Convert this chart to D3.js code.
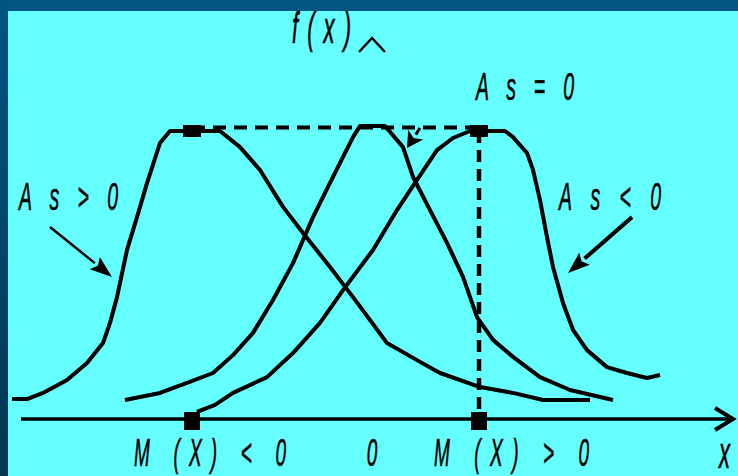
<!DOCTYPE html>
<html>
<head>
    <title>Skewness</title>
    <script src="https://d3js.org/d3.v7.min.js"></script>
    <style>
        body { margin: 0; background: #055582; }
        text { font-family: "Liberation Sans", Arial, sans-serif; font-style: italic; fill: #000; stroke: #000; stroke-width: 0.6px; }
    </style>
</head>
<body>
    <div id="chart"></div>

    <script>
        // curves (x in units of the axis, y relative to the peak)
        var posSkewX = [-3.60, -3.45, -3.29, -3.05, -2.85, -2.69, -2.62, -2.55, -2.45, -2.35, -2.25, -2.12, -2.02, -1.52, -1.32, -1.12, -0.89, -0.69, -0.42, -0.19, -0.02, 0.15, 0.48, 0.68, 1.08, 1.41, 1.71, 2.18];
        var posSkewY = [0.068, 0.068, 0.089, 0.133, 0.191, 0.259, 0.328, 0.416, 0.577, 0.689, 0.805, 0.942, 0.983, 0.983, 0.928, 0.850, 0.724, 0.635, 0.519, 0.416, 0.338, 0.259, 0.195, 0.157, 0.109, 0.089, 0.065, 0.065];

        var zeroSkewX = [-2.47, -2.12, -1.85, -1.59, -1.39, -1.19, -0.99, -0.79, -0.59, -0.39, -0.19, -0.12, 0.13, 0.31, 0.41, 0.58, 0.75, 0.91, 1.05, 1.21, 1.41, 1.68, 1.98, 2.41];
        var zeroSkewY = [0.065, 0.089, 0.123, 0.157, 0.218, 0.294, 0.406, 0.532, 0.689, 0.826, 0.962, 1.0, 1.0, 0.928, 0.826, 0.713, 0.601, 0.485, 0.348, 0.270, 0.212, 0.143, 0.099, 0.065];

        var negSkewX = [-1.75, -1.57, -1.39, -1.05, -0.79, -0.52, -0.29, 0.01, 0.25, 0.45, 0.65, 0.81, 0.98, 1.33, 1.41, 1.55, 1.61, 1.68, 1.75, 1.81, 1.91, 2.01, 2.15, 2.35, 2.55, 2.75, 2.88];
        var negSkewY = [0.024, 0.048, 0.089, 0.143, 0.225, 0.328, 0.440, 0.577, 0.713, 0.816, 0.918, 0.959, 0.983, 0.983, 0.962, 0.908, 0.850, 0.747, 0.621, 0.519, 0.396, 0.304, 0.235, 0.177, 0.157, 0.140, 0.150];

        // modes of the two skewed curves
        var modes = [-1.8, 1.07];
        var modeLevel = 0.983;

        var axisLabels = ["M (X) < 0", "0", "M (X) > 0", "x"];
        var skewLabels = ["A s > 0", "A s = 0", "A s < 0"];

        var width = 738, height = 476;

        var svg = d3.select("#chart")
                    .append("svg")
                    .attr("width", width)
                    .attr("height", height)
                    .style("display", "block");

        // frame
        var grad = svg.append("defs").append("linearGradient")
            .attr("id", "side").attr("x1", 0).attr("y1", 0).attr("x2", 0).attr("y2", 1);
        grad.append("stop").attr("offset", "0%").attr("stop-color", "#005583");
        grad.append("stop").attr("offset", "100%").attr("stop-color", "#043650");

        svg.append("rect").attr("width", width).attr("height", 11).attr("fill", "#055582");
        svg.append("rect").attr("y", 0).attr("width", 8).attr("height", height).attr("fill", "url(#side)");
        svg.append("rect").attr("x", 8).attr("y", 11).attr("width", width - 8).attr("height", height - 11).attr("fill", "#66ffff");

        var x = d3.scaleLinear().domain([-3.5, 3.5]).range([22, 722]);
        var y = d3.scaleLinear().domain([0, 1]).range([419, 126]);

        function pts(xs, ys) {
            return xs.map(function(d, i) { return [d, ys[i]]; });
        }

        var line = d3.line()
            .x(function(d) { return x(d[0]); })
            .y(function(d) { return y(d[1]); });

        // dashed guides
        svg.append("line")
           .attr("x1", x(modes[0])).attr("x2", x(modes[1]))
           .attr("y1", y(1) + 1.5).attr("y2", y(1) + 1.5)
           .attr("stroke", "#000").attr("stroke-width", 4)
           .attr("stroke-dasharray", "13,8");

        svg.append("line")
           .attr("x1", x(modes[1])).attr("x2", x(modes[1]))
           .attr("y1", y(modeLevel)).attr("y2", y(0))
           .attr("stroke", "#000").attr("stroke-width", 4.5)
           .attr("stroke-dasharray", "12,7");

        // x axis with arrow
        svg.append("line")
           .attr("x1", x(-3.51)).attr("x2", x(3.6))
           .attr("y1", y(0)).attr("y2", y(0))
           .attr("stroke", "#000").attr("stroke-width", 3.5);

        svg.append("path")
           .attr("d", "M" + (x(3.61) - 18) + "," + (y(0) - 11) + "L" + x(3.61) + "," + y(0) + "L" + (x(3.61) - 18) + "," + (y(0) + 11))
           .attr("fill", "none").attr("stroke", "#000").attr("stroke-width", 4);

        // y axis arrow head only
        svg.append("path")
           .attr("d", "M" + (x(0) - 13) + ",52L" + x(0) + ",38L" + (x(0) + 13) + ",52")
           .attr("fill", "none").attr("stroke", "#000").attr("stroke-width", 2.5);

        // curves
        [pts(posSkewX, posSkewY), pts(zeroSkewX, zeroSkewY), pts(negSkewX, negSkewY)].forEach(function(c) {
            svg.append("path")
               .attr("d", line(c))
               .attr("fill", "none")
               .attr("stroke", "#000")
               .attr("stroke-width", 4)
               .attr("stroke-linejoin", "round");
        });

        // mode markers on the peaks and on the axis
        svg.selectAll(".peak")
           .data(modes)
           .enter()
           .append("rect")
           .attr("x", function(d) { return x(d) - 9; })
           .attr("y", y(modeLevel) - 6)
           .attr("width", 18).attr("height", 12)
           .attr("fill", "#000");

        svg.selectAll(".foot")
           .data(modes)
           .enter()
           .append("rect")
           .attr("x", function(d) { return x(d) - 8; })
           .attr("y", y(0) - 7)
           .attr("width", 16).attr("height", 18)
           .attr("fill", "#000");

        // annotation arrows
        function arrow(x0, y0, x1, y1, w, len, half) {
            var px0 = x(x0), py0 = y(y0), px1 = x(x1), py1 = y(y1);
            var dx = px1 - px0, dy = py1 - py0, l = Math.sqrt(dx * dx + dy * dy);
            var ux = dx / l, uy = dy / l;
            var bx = px1 - ux * len, by = py1 - uy * len;
            svg.append("line")
               .attr("x1", px0).attr("y1", py0).attr("x2", bx).attr("y2", by)
               .attr("stroke", "#000").attr("stroke-width", w);
            svg.append("path")
               .attr("d", "M" + px1 + "," + py1 +
                          "L" + (bx - uy * half) + "," + (by + ux * half) +
                          "L" + (bx + ux * 4) + "," + (by + uy * 4) +
                          "L" + (bx + uy * half) + "," + (by - ux * half) + "Z")
               .attr("fill", "#000");
        }
        arrow(-3.22, 0.655, -2.60, 0.485, 2.5, 22, 8);
        arrow(2.60, 0.689, 1.96, 0.498, 4, 22, 8);
        arrow(0.48, 0.993, 0.35, 0.925, 3, 16, 9);

        // condensed italic labels spread between two x positions
        var squeeze = 0.5;
        function label(str, px0, px1, baseline, size) {
            svg.append("text")
               .attr("transform", "translate(" + px0 + "," + baseline + ") scale(" + squeeze + ",1)")
               .attr("textLength", (px1 - px0) / squeeze)
               .attr("lengthAdjust", "spacing")
               .style("font-size", size + "px")
               .text(str);
        }

        label(axisLabels[0], x(-2.38), x(-0.86), 466, 38);
        svg.append("text")
           .attr("transform", "translate(" + x(0) + ",466) scale(" + squeeze + ",1)")
           .attr("text-anchor", "middle")
           .style("font-size", "38px")
           .text(axisLabels[1]);
        label(axisLabels[2], x(0.62), x(2.17), 466, 38);
        svg.append("text")
           .attr("transform", "translate(" + x(3.47) + ",468) scale(" + squeeze + ",1)")
           .style("font-size", "44px")
           .text(axisLabels[3]);

        label(skewLabels[0], 19, 118, 210, 39);
        label(skewLabels[1], 476, 574, 100, 39);
        label(skewLabels[2], 559, 661, 210, 39);

        label("f ( x )", 292, 351, 43, 44);
    </script>
</body>
</html>
